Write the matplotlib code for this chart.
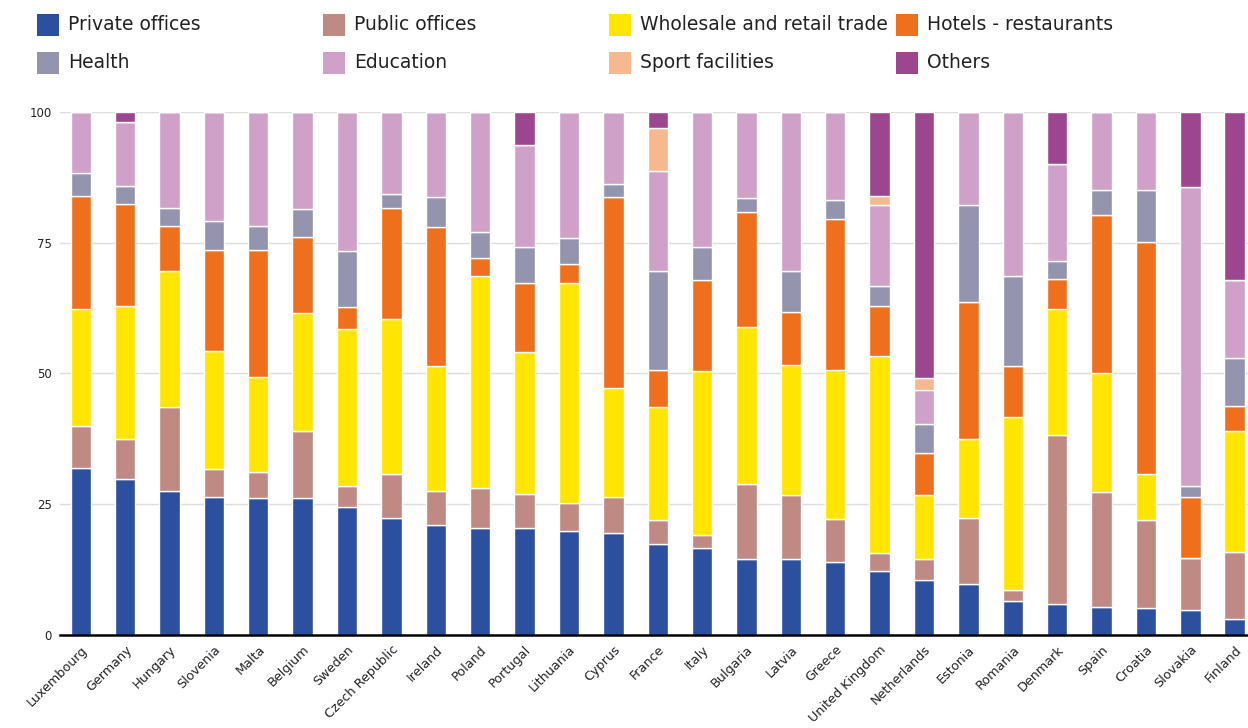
import matplotlib
matplotlib.use("Agg")
import matplotlib.pyplot as plt
import matplotlib.patches as mpatches
import numpy as np

# ── data ────────────────────────────────────────────────────────────
countries = ["Luxembourg", "Germany", "Hungary", "Slovenia", "Malta", "Belgium",
             "Sweden", "Czech Republic", "Ireland", "Poland", "Portugal", "Lithuania",
             "Cyprus", "France", "Italy", "Bulgaria", "Latvia", "Greece",
             "United Kingdom", "Netherlands", "Estonia", "Romania", "Denmark",
             "Spain", "Croatia", "Slovakia", "Finland"]

private_offices = [32.0, 29.9, 27.6, 26.4, 26.2, 26.2, 24.5, 22.3, 21.1, 20.5, 20.5, 19.9,
                   19.4, 17.3, 16.7, 14.6, 14.6, 14.0, 12.2, 10.4, 9.8, 6.4, 5.8,
                   5.3, 5.1, 4.7, 3.0]
public_offices = [8.0, 7.6, 16.0, 5.4, 5.0, 12.7, 3.9, 8.5, 6.4, 7.5, 6.4, 5.3,
                  6.9, 4.6, 2.4, 14.2, 12.1, 8.1, 3.5, 4.1, 12.6, 2.2, 32.5,
                  22.0, 16.8, 10.0, 12.9]
wholesale_retail = [22.4, 25.5, 26.0, 22.5, 18.2, 22.6, 30.1, 29.6, 24.0, 40.6, 27.2, 42.2,
                    20.9, 21.6, 31.4, 30.1, 24.9, 28.5, 37.6, 12.2, 15.1, 33.1, 24.0,
                    22.7, 8.8, 0.0, 23.0]
hotels_restaurants = [21.6, 19.5, 8.7, 19.3, 24.2, 14.6, 4.3, 21.3, 26.6, 3.4, 13.3, 3.6,
                      36.6, 7.2, 17.4, 21.9, 10.2, 28.9, 9.6, 8.1, 26.2, 9.8, 5.8,
                      30.3, 44.5, 11.7, 4.8]
health = [4.4, 3.3, 3.4, 5.5, 4.7, 5.4, 10.6, 2.7, 5.6, 5.0, 6.7, 4.9,
          2.4, 18.9, 6.3, 2.7, 7.8, 3.6, 3.9, 5.5, 18.5, 17.1, 3.4,
          4.8, 9.9, 2.1, 9.2]
education = [11.6, 12.3, 18.3, 20.9, 21.7, 18.5, 26.6, 15.6, 16.3, 23.0, 19.7, 24.1,
             13.8, 19.2, 25.8, 16.5, 30.4, 16.9, 15.4, 6.6, 17.8, 31.4, 18.5,
             14.9, 14.9, 57.1, 14.9]
sport_facilities = [0, 0, 0, 0, 0, 0, 0, 0, 0, 0, 0, 0,
                    0, 8.1, 0, 0, 0, 0, 1.7, 2.3, 0, 0, 0,
                    0, 0, 0, 0]
others = [0, 1.9, 0, 0, 0, 0, 0, 0, 0, 0, 6.2, 0,
          0, 3.1, 0, 0, 0, 0, 16.1, 50.8, 0, 0, 10.0,
          0, 0, 14.4, 32.2]

series_names = ["Private offices", "Public offices", "Wholesale and retail trade",
                "Hotels - restaurants", "Health", "Education", "Sport facilities", "Others"]
series_values = [private_offices, public_offices, wholesale_retail, hotels_restaurants,
                 health, education, sport_facilities, others]

# ── colours ─────────────────────────────────────────────────────────
COLORS = ["#2C4F9E", "#BF8A84", "#FFE500", "#EE701C",
          "#9494AE", "#D0A1C8", "#F6B88E", "#9D4690"]
GRID = "#DDDDDD"
TEXT = "#222222"

W, H = 1248, 728
fig = plt.figure(figsize=(W / 100, H / 100), dpi=100)
fig.patch.set_facecolor("white")
ax = fig.add_axes([0.048, 0.128, 0.952, 0.718])

x = np.arange(len(countries))
bottom = np.zeros(len(countries))
for name, vals, col in zip(series_names, series_values, COLORS):
    vals = np.array(vals, dtype=float)
    ax.bar(x, vals, width=0.46, bottom=bottom, color=col, edgecolor="white",
           linewidth=1.0, zorder=3)
    bottom += vals

ax.set_xlim(-0.47, 26.3)
ax.set_ylim(0, 100)
ax.set_yticks([0, 25, 50, 75, 100])
ax.yaxis.grid(True, color=GRID, linewidth=1.0, zorder=0)
ax.set_axisbelow(True)
for s in ["top", "right", "left"]:
    ax.spines[s].set_visible(False)
ax.spines["bottom"].set_color("black")
ax.spines["bottom"].set_linewidth(1.8)
ax.spines["bottom"].set_zorder(4)

ax.tick_params(axis="y", length=0, labelsize=8.5, labelcolor=TEXT, pad=6)
ax.tick_params(axis="x", length=0, pad=6)
ax.set_xticks(x)
ax.set_xticklabels(countries, rotation=45, ha="right", va="top",
                   rotation_mode="anchor", fontsize=9.2, color=TEXT)

# ── legend drawn by hand: 4 columns x 2 rows, row-wise ──────────────
col_x = [37, 323, 609, 896]   # px, left edge of swatch
row_y = [25, 63]              # px from top, centre of row
SW, SH = 22, 22
for i, (name, col) in enumerate(zip(series_names, COLORS)):
    cx = col_x[i % 4]
    cy = row_y[i // 4]
    fig.patches.append(mpatches.Rectangle(
        (cx / W, 1 - (cy + SH / 2) / H), SW / W, SH / H,
        transform=fig.transFigure, facecolor=col, edgecolor="none"))
    fig.text((cx + SW + 9) / W, 1 - cy / H, name, ha="left", va="center",
             fontsize=13.5, color=TEXT)

fig.savefig("out.png", dpi=100, facecolor="white")
plt.close(fig)
